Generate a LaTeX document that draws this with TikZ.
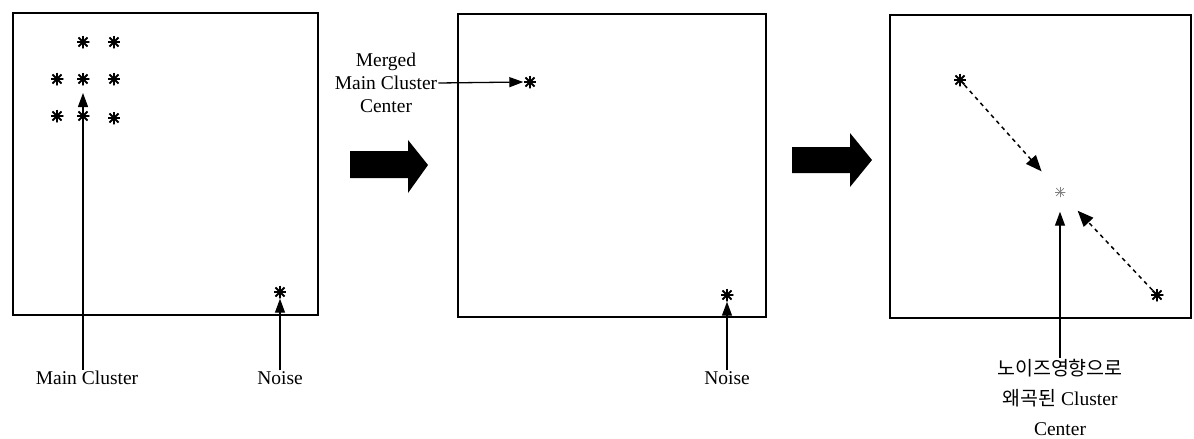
\documentclass[tikz,border=0pt]{standalone}
\usepackage{fontspec}
\setmainfont{Liberation Serif}
\newfontfamily\kor{Noto Sans CJK KR}
\usetikzlibrary{arrows.meta}
\tikzset{
  panel/.style={draw, line width=1.6pt},
  ast/.style={circle, inner sep=0pt, minimum size=13pt,
    path picture={\foreach \a in {0,45,90,135}
      \draw[line width=1.8pt] ([shift={(\a:6.5pt)}]path picture bounding box.center) -- ([shift={(\a+180:6.5pt)}]path picture bounding box.center);}},
  lightast/.style={circle, inner sep=0pt, minimum size=11pt,
    path picture={\foreach \a in {0,45,90,135}
      \draw[line width=0.7pt, gray] ([shift={(\a:5.5pt)}]path picture bounding box.center) -- ([shift={(\a+180:5.5pt)}]path picture bounding box.center);}},
  lbl/.style={font=\fontsize{19.5}{23}\selectfont, inner sep=1pt},
  conn/.style={line width=1.3pt, -{Triangle[length=14pt,width=10pt]}},
  dconn/.style={line width=1.5pt, dash pattern=on 4pt off 4pt, -{Triangle[length=16pt,width=13pt]}},
  bigarrow/.style={fill=black}
}
\begin{document}
\begin{tikzpicture}[x=1pt,y=-1pt]
\useasboundingbox (0,0) rectangle (1194,439);
% panels
\draw[panel] (13,13) rectangle (318,315);
\draw[panel] (458,14) rectangle (766,317);
\draw[panel] (890,15) rectangle (1191,318);
% big arrows
\fill[bigarrow] (350,151) -- (408,151) -- (408,140) -- (428,165) -- (408,193) -- (408,178) -- (350,178) -- cycle;
\fill[bigarrow] (792,147) -- (850,147) -- (850,133) -- (872,160) -- (850,187) -- (850,173) -- (792,173) -- cycle;
% panel 1 stars
\node[ast] (s1) at (83,42) {};
\node[ast] (s2) at (114,42) {};
\node[ast] (s3) at (57,79) {};
\node[ast] (s4) at (83,79) {};
\node[ast] (s5) at (114,79) {};
\node[ast] (s6) at (57,116) {};
\node[ast] (s7) at (83,116) {};
\node[ast] (s8) at (114,118) {};
\node[ast] (ns1) at (280,292) {};
\coordinate (mct) at (83,93);
% panel 2 stars
\node[ast] (ms) at (530,82) {};
\node[ast] (ns2) at (727,295) {};
% panel 3 stars
\node[ast] (t3) at (960,80) {};
\node[lightast] (c3) at (1060,192) {};
\node[ast] (b3) at (1157,295) {};
% labels
\node[lbl] (mc) at (87,378) {Main Cluster};
\node[lbl] (n1) at (280,378) {Noise};
\node[lbl] (n2) at (727,378) {Noise};
\node[lbl, align=center] (mm) at (386,83) {Merged\\Main Cluster\\Center};
\node[lbl, align=center, font=\fontsize{19.5}{30}\selectfont] (kc) at (1060,397) {{\kor 노이즈영향으로}\\{\kor 왜곡된} Cluster\\Center};
% connectors
\draw[conn] (mc.north -| mct) -- (mct);
\draw[conn] (n1.north) -- (ns1.south);
\draw[conn] (n2.north) -- (ns2.south);
\draw[conn] (mm.east) -- (ms.west);
\draw[dconn, shorten >=22pt] (t3) -- (c3);
\draw[dconn, shorten >=20pt] (b3) -- (c3);
\draw[conn, shorten >=14pt] (kc.north) -- (c3.south);
\end{tikzpicture}
\end{document}
